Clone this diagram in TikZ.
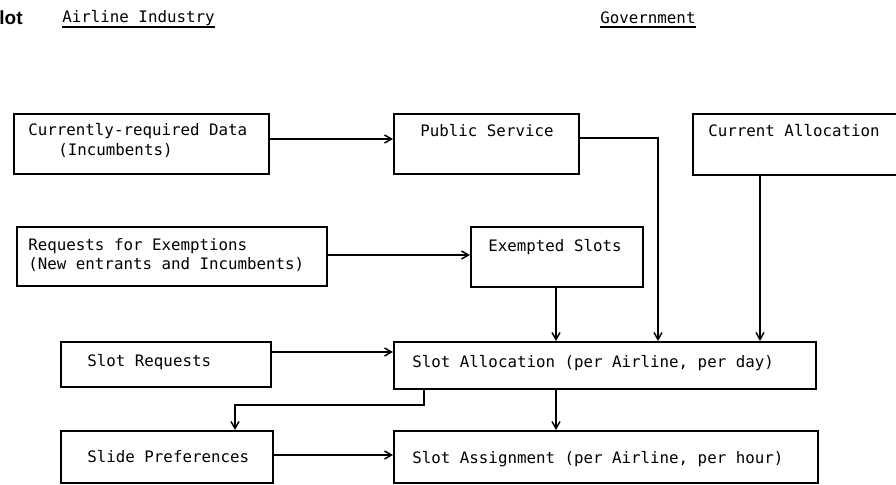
\documentclass[tikz,border=0pt]{standalone}
\usepackage{fontspec}
\newfontfamily\monofont{DejaVu Sans Mono}
\newfontfamily\headfont{Liberation Sans}
\usetikzlibrary{arrows.meta}
\tikzset{
  box/.style={draw, line width=0.95pt, rectangle, anchor=north west, inner sep=0pt},
  txt/.style={anchor=west, inner sep=0pt, text=black, font=\monofont\fontsize{7.9}{9.5}\selectfont},
  head/.style={anchor=west, inner sep=0pt, text=black, font=\monofont\fontsize{7.9}{9.5}\selectfont},
  uline/.style={line width=0.8pt, black},
  arr/.style={-{Straight Barb[length=3.5pt,width=4pt]}, line width=0.75pt}
}
\newcommand\mybox[5]{\node[box, minimum width=#4*0.5pt, minimum height=#5*0.5pt] (#1) at (#2,#3) {};}
\begin{document}
\begin{tikzpicture}[x=0.5pt, y=-0.5pt]
\useasboundingbox (0,0) rectangle (896,485);
\clip (0,0) rectangle (896,485);
% headers
\node[anchor=west, inner sep=0pt, font=\headfont\bfseries\fontsize{9.5}{11}\selectfont] (lot) at (-1,18) {lot};
\node[head] (ai) at (62,18) {Airline Industry};
\node[head] (gov) at (600,18) {Government};
\draw[uline] (ai.west |- 0,27) -- (ai.east |- 0,27);
\draw[uline] (gov.west |- 0,27) -- (gov.east |- 0,27);
% boxes
\mybox{b1}{13}{113}{255}{60}
\mybox{b2}{393}{113}{185}{60}
\mybox{b3}{692}{113}{220}{61}
\mybox{b4}{16}{226}{310}{59}
\mybox{b5}{470}{226}{172}{60}
\mybox{b6}{60}{341}{210}{45}
\mybox{b7}{393}{341}{422}{47}
\mybox{b8}{60}{430}{212}{52}
\mybox{b9}{393}{430}{424}{52}
% texts
\node[txt] (t1a) at (28,131) {Currently-required Data};
\node[txt] (t1b) at (58,151) {(Incumbents)};
\node[txt] (t2) at (420,131) {Public Service};
\node[txt] (t3) at (708,131) {Current Allocation};
\node[txt] (t4a) at (28,246) {Requests for Exemptions};
\node[txt] (t4b) at (28,265) {(New entrants and Incumbents)};
\node[txt] (t5) at (488,247) {Exempted Slots};
\node[txt] (t6) at (87,362) {Slot Requests};
\node[txt] (t7) at (412,363) {Slot Allocation (per Airline, per day)};
\node[txt] (t8) at (87,457) {Slide Preferences};
\node[txt] (t9) at (412,459) {Slot Assignment (per Airline, per hour)};
% connectors
\draw[arr] (b1.east |- 0,139) -- (b2.west |- 0,139);
\draw[arr] (b2.east |- 0,138) -| (b7.north -| 658,0);
\draw[arr] (b3.south -| 760,0) -- (b7.north -| 760,0);
\draw[arr] (b4.east |- 0,255) -- (b5.west |- 0,255);
\draw[arr] (b5.south -| 556,0) -- (b7.north -| 556,0);
\draw[arr] (b6.east |- 0,352) -- (b7.west |- 0,352);
\coordinate (bend) at (235,405);
\draw[arr] (b7.south -| 424,0) |- (bend) -- (b8.north -| bend);
\draw[arr] (b7.south -| 556,0) -- (b9.north -| 556,0);
\draw[arr] (b8.east |- 0,455) -- (b9.west |- 0,455);
\end{tikzpicture}
\end{document}
